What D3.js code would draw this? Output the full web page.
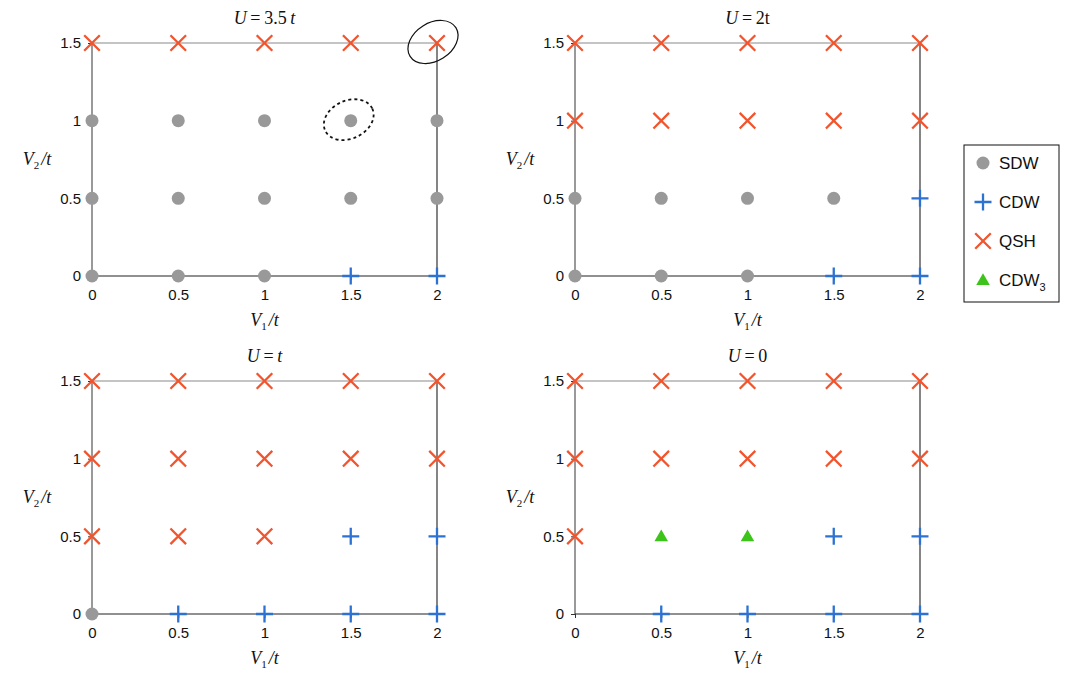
<!DOCTYPE html>
<html>
<head>
<meta charset="utf-8">
<script src="https://cdn.jsdelivr.net/npm/d3@7"></script>
<style>
  body { margin: 0; background: #fff; }
  svg text { font-family: "Liberation Sans", Arial, sans-serif; }
  .serif { font-family: "Liberation Serif", "Times New Roman", serif !important; }
</style>
</head>
<body>
<svg id="chart" width="1071" height="689"></svg>
<script>
// grid of parameters
const v1Values = [0, 0.5, 1, 1.5, 2];
const v2Values = [0, 0.5, 1, 1.5];
const v1TickLabels = ["0", "0.5", "1", "1.5", "2"];
const v2TickLabels = ["0", "0.5", "1", "1.5"];

// panel titles: [text, italic?]
const panelTitles = [
    [["U", true], ["\u2009=\u2009", false], ["3.5", false], ["\u2009t", true]],
    [["U", true], ["\u2009=\u2009", false], ["2t", false]],
    [["U", true], ["\u2009=\u2009", false], ["t", true]],
    [["U", true], ["\u2009=\u2009", false], ["0", false]]
];

// phase at each grid point, rows go V2 = 0, 0.5, 1, 1.5 ; columns V1 = 0..2
// S = SDW, C = CDW, Q = QSH, T = CDW3, "" = nothing
const phasesU35 = [
    ["S", "S", "S", "C", "C"],
    ["S", "S", "S", "S", "S"],
    ["S", "S", "S", "S", "S"],
    ["Q", "Q", "Q", "Q", "Q"]
];
const phasesU2 = [
    ["S", "S", "S", "C", "C"],
    ["S", "S", "S", "S", "C"],
    ["Q", "Q", "Q", "Q", "Q"],
    ["Q", "Q", "Q", "Q", "Q"]
];
const phasesU1 = [
    ["S", "C", "C", "C", "C"],
    ["Q", "Q", "Q", "C", "C"],
    ["Q", "Q", "Q", "Q", "Q"],
    ["Q", "Q", "Q", "Q", "Q"]
];
const phasesU0 = [
    ["", "C", "C", "C", "C"],
    ["Q", "T", "T", "C", "C"],
    ["Q", "Q", "Q", "Q", "Q"],
    ["Q", "Q", "Q", "Q", "Q"]
];
const panelPhases = [phasesU35, phasesU2, phasesU1, phasesU0];

const legendKeys = ["S", "C", "Q", "T"];
const legendNames = ["SDW", "CDW", "QSH", "CDW"];

const colors = {S: "#999999", C: "#2d72d2", Q: "#f2542d", T: "#3dc41a"};

// layout
const plotW = 345, plotH = 233;
const panelPos = [[92, 43], [575, 43], [92, 381], [575, 381]];

const svg = d3.select("#chart");

function drawMarker(g, kind, x, y) {
    const c = colors[kind];
    if (kind === "S") {
        g.append("circle").attr("cx", x).attr("cy", y).attr("r", 6.5).attr("fill", c);
    } else if (kind === "C") {
        const s = 8.5;
        g.append("path")
            .attr("d", `M${x - s},${y}H${x + s}M${x},${y - s}V${y + s}`)
            .attr("stroke", c).attr("stroke-width", 2.3).attr("fill", "none");
    } else if (kind === "Q") {
        const s = 7.8;
        g.append("path")
            .attr("d", `M${x - s},${y - s}L${x + s},${y + s}M${x - s},${y + s}L${x + s},${y - s}`)
            .attr("stroke", c).attr("stroke-width", 2.3).attr("fill", "none");
    } else if (kind === "T") {
        g.append("path")
            .attr("d", d3.symbol(d3.symbolTriangle, 80)())
            .attr("transform", `translate(${x},${y + 1})`)
            .attr("fill", c);
    }
}

panelPhases.forEach((phases, i) => {
    const [ox, oy] = panelPos[i];
    const g = svg.append("g").attr("transform", `translate(${ox},${oy})`);

    const x = d3.scaleLinear().domain([0, 2]).range([0, plotW]);
    const y = d3.scaleLinear().domain([0, 1.5]).range([plotH, 0]);

    //frame
    g.append("line").attr("x1", 0).attr("x2", plotW).attr("y1", 0).attr("y2", 0)
        .attr("stroke", "#8a8a8a").attr("stroke-width", 1.2);
    g.append("line").attr("x1", 0).attr("x2", 0).attr("y1", 0).attr("y2", plotH)
        .attr("stroke", "#555").attr("stroke-width", 1.2);
    g.append("line").attr("x1", plotW).attr("x2", plotW).attr("y1", 0).attr("y2", plotH)
        .attr("stroke", "#333").attr("stroke-width", 1.2);
    g.append("line").attr("x1", 0).attr("x2", plotW).attr("y1", plotH).attr("y2", plotH)
        .attr("stroke", "#222").attr("stroke-width", 1.2);

    //axes
    const yAxis = g.append("g")
        .call(d3.axisLeft(y).tickValues(v2Values).tickSize(4).tickPadding(7)
            .tickFormat((d, j) => v2TickLabels[j]));
    const xAxis = g.append("g")
        .attr("transform", `translate(0,${plotH})`)
        .call(d3.axisBottom(x).tickValues(v1Values).tickSize(4).tickPadding(9)
            .tickFormat((d, j) => v1TickLabels[j]));
    for (const ax of [xAxis, yAxis]) {
        ax.attr("font-size", null).attr("font-family", null);
        ax.select(".domain").remove();
        ax.selectAll(".tick line").attr("stroke", "#333");
        ax.selectAll(".tick text").attr("fill", "#111")
            .style("font-size", "15px");
    }

    //points
    const pts = g.append("g");
    phases.forEach((row, r) => {
        row.forEach((kind, c) => {
            if (kind) drawMarker(pts, kind, x(v1Values[c]), y(v2Values[r]));
        });
    });

    //title
    const title = g.append("text").attr("class", "serif")
        .attr("x", plotW / 2).attr("y", -19)
        .attr("text-anchor", "middle").attr("font-size", 18).attr("fill", "#111");
    panelTitles[i].forEach(([t, it]) => {
        title.append("tspan").text(t).attr("font-style", it ? "italic" : "normal");
    });

    //axis labels
    const xl = g.append("text").attr("class", "serif")
        .attr("x", plotW / 2).attr("y", plotH + 50)
        .attr("text-anchor", "middle").attr("font-size", 18).attr("font-style", "italic").attr("fill", "#111");
    xl.append("tspan").text("V");
    xl.append("tspan").text("1").attr("font-size", 11).attr("font-style", "normal").attr("dy", 4);
    xl.append("tspan").text("/t").attr("dy", -4).attr("dx", 2);

    const yl = g.append("text").attr("class", "serif")
        .attr("x", -55).attr("y", 122)
        .attr("text-anchor", "middle").attr("font-size", 18).attr("font-style", "italic").attr("fill", "#111");
    yl.append("tspan").text("V");
    yl.append("tspan").text("2").attr("font-size", 11).attr("font-style", "normal").attr("dy", 4);
    yl.append("tspan").text("/t").attr("dy", -4).attr("dx", 2);

    //highlight ellipses in the first panel
    if (i === 0) {
        g.append("ellipse")
            .attr("transform", `translate(${x(2) - 4},${y(1.5) - 1}) rotate(-32)`)
            .attr("rx", 27).attr("ry", 19)
            .attr("fill", "none").attr("stroke", "#111").attr("stroke-width", 1.2);
        g.append("ellipse")
            .attr("transform", `translate(${x(1.5) - 2},${y(1) - 1}) rotate(-25)`)
            .attr("rx", 26).attr("ry", 19)
            .attr("fill", "none").attr("stroke", "#111").attr("stroke-width", 1.8)
            .attr("stroke-dasharray", "3,3");
    }
});

//legend
const legend = svg.append("g").attr("transform", "translate(964,145)");
legend.append("rect").attr("width", 95).attr("height", 157)
    .attr("fill", "#fff").attr("stroke", "#111").attr("stroke-width", 1);
legendKeys.forEach((k, j) => {
    const ly = 18 + j * 39;
    drawMarker(legend, k, 19, ly);
    const t = legend.append("text").attr("x", 35).attr("y", ly + 6)
        .attr("font-size", 17).attr("fill", "#111").text(legendNames[j]);
    if (k === "T") {
        t.append("tspan").text("3").attr("font-size", 11).attr("dy", 5);
    }
});
</script>
</body>
</html>
